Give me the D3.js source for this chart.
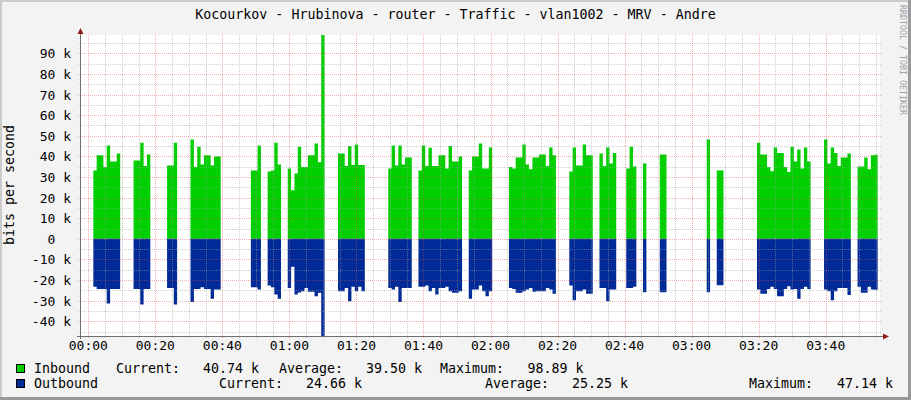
<!DOCTYPE html>
<html>
<head>
<meta charset="utf-8">
<script src="https://cdn.jsdelivr.net/npm/d3@7"></script>
<style>
body { margin: 0; background: #f3f3f3; }
text { font-family: "DejaVu Sans Mono", monospace; white-space: pre; }
</style>
</head>
<body>
<svg id="chart" width="911" height="400"></svg>
<script>
// minute (after 00:00) of the first sample of every run of data
var blockStart = [2, 14, 24, 31, 49, 54, 60, 75, 90, 99, 114, 126, 144, 153, 161, 166, 171, 185, 188, 200, 220, 230]
// one value per minute, kbit/s
var inbound = [
	[33.2, 40.5, 40.5, 34.8, 45.3, 37.5, 37.5, 41.4],
	[38.0, 38.0, 46.6, 35.3, 40.9],
	[35.6, 35.6, 46.6],
	[48.2, 34.8, 44.7, 36.1, 40.5, 40.5, 35.6, 40.0, 40.0],
	[33.2, 33.2, 45.3],
	[32.7, 33.2, 46.6, 36.1],
	[34.1, 23.6, 31.7, 44.7, 34.8, 34.8, 40.5, 40.5, 46.3, 37.2, 98.89],
	[41.4, 41.4, 35.3, 45.0, 35.8, 45.8, 35.8, 35.8],
	[34.1, 45.3, 35.6, 45.3, 36.1, 39.5, 39.5],
	[33.2, 45.3, 35.3, 44.2, 35.3, 35.3, 40.5, 40.5, 34.1, 45.0, 37.5, 37.5, 40.0],
	[33.2, 40.0, 40.0, 46.3, 34.1, 34.1, 44.3],
	[34.8, 34.1, 39.5, 39.5, 45.8, 36.1, 33.7, 39.5, 39.5, 40.9, 40.9, 35.3, 44.3, 40.5],
	[32.7, 44.3, 35.6, 35.6, 45.8, 40.5, 40.5],
	[41.4, 35.3, 44.3, 36.6, 41.7],
	[34.1, 44.7, 35.1],
	[36.6],
	[40.9, 40.9],
	[48.2],
	[33.2, 33.2],
	[46.6, 40.9, 40.9, 34.8, 32.8, 44.3, 41.7, 41.7, 34.8, 32.4, 44.7, 37.5, 43.4, 34.1, 44.3, 37.5],
	[48.2, 36.6, 44.3, 41.7, 35.3, 39.5, 39.5, 41.4],
	[35.1, 35.1, 39.5, 33.7, 40.5, 40.74]
]
var outbound = [
	[23.3, 24.3, 24.3, 24.3, 31.4, 24.3, 24.3, 24.3],
	[24.3, 24.3, 31.9, 24.3, 24.3],
	[23.8, 23.8, 31.9],
	[30.7, 24.3, 24.3, 23.5, 24.3, 24.3, 29.1, 24.6, 24.6],
	[23.5, 23.5, 24.6],
	[22.7, 23.5, 27.0, 29.1],
	[23.8, 13.6, 27.0, 26.0, 25.4, 23.8, 25.7, 25.7, 27.8, 26.2, 47.14],
	[25.4, 25.4, 23.8, 30.3, 23.3, 25.4, 23.3, 25.4],
	[23.8, 24.6, 23.3, 30.7, 23.8, 23.8, 23.8],
	[23.3, 23.3, 22.7, 25.4, 23.8, 27.0, 23.8, 23.8, 23.3, 25.4, 26.2, 26.2, 25.4],
	[29.1, 24.6, 24.6, 22.7, 25.4, 27.8, 25.4],
	[23.8, 24.3, 26.2, 26.2, 25.4, 24.6, 23.8, 25.7, 25.4, 25.4, 25.4, 23.8, 24.6, 26.7],
	[22.7, 29.8, 25.4, 25.4, 24.6, 26.7, 26.7],
	[23.8, 23.8, 30.3, 24.6, 24.6],
	[23.8, 23.8, 23.3],
	[25.9],
	[25.9, 25.9],
	[25.9],
	[22.5, 22.5],
	[24.6, 26.7, 26.7, 24.3, 23.3, 24.3, 27.8, 27.8, 24.3, 23.0, 24.6, 24.3, 29.1, 24.3, 23.3, 24.3],
	[24.6, 25.4, 29.8, 25.4, 23.8, 23.8, 23.8, 27.3],
	[23.3, 26.2, 26.2, 23.3, 24.6, 24.66]
]
var yTicks = [-40, -30, -20, -10, 0, 10, 20, 30, 40, 50, 60, 70, 80, 90]
var xTickMinutes = [0, 20, 40, 60, 80, 100, 120, 140, 160, 180, 200, 220]
var xTickLabels = ['00:00', '00:20', '00:40', '01:00', '01:20', '01:40', '02:00', '02:20', '02:40', '03:00', '03:20', '03:40']
var inboundStats = ['40.74 k', '39.50 k', '98.89 k']
var outboundStats = ['24.66 k', '25.25 k', '47.14 k']

var W = 911, H = 400
var X0 = 80, X1 = 880, Y0 = 336, Y1 = 35
var svg = d3.select('#chart')

var x = d3.scaleLinear().domain([-2.48, 236.2]).range([X0, X1])
var y = d3.scaleLinear().domain([-47.14, 98.89]).range([Y0, Y1])

//background and 3d frame
svg.append('rect').attr('width', W).attr('height', H).attr('fill', '#f3f3f3')
svg.append('path').attr('d', 'M0,0H' + W + 'V2H2V' + H + 'H0Z').attr('fill', '#cbcbcb')
svg.append('path').attr('d', 'M' + W + ',0V' + H + 'H0V' + (H - 3) + 'H' + (W - 3) + 'V0Z').attr('fill', '#999999')
svg.append('rect').attr('x', X0).attr('y', Y1).attr('width', X1 - X0).attr('height', Y0 - Y1).attr('fill', '#ffffff')

//step areas, one per run of samples
function steps(start, vals, sign)
{
	var pts = vals.map(function(v, i) { return {t: start + i - 0.5, v: v * sign} })
	pts.push({t: start + vals.length - 0.5, v: vals[vals.length - 1] * sign})
	return pts
}
var area = d3.area()
	.x(function(d) { return x(d.t) })
	.y0(y(0))
	.y1(function(d) { return y(d.v) })
	.curve(d3.curveStepAfter)

var gIn = svg.append('g')
var gOut = svg.append('g')
blockStart.forEach(function(s, b)
{
	gIn.append('path').attr('d', area(steps(s, inbound[b], 1))).attr('fill', '#00cf00')
	gOut.append('path').attr('d', area(steps(s, outbound[b], -1))).attr('fill', '#002a97')
})

//grid on top of the data, as rrdtool does
var grid = svg.append('g').attr('stroke-width', 1).attr('stroke-dasharray', '1,1').attr('fill', 'none')
function px(v) { return Math.round(v) + 0.5 }
d3.range(-45, 100, 5).forEach(function(v)
{
	if (y(v) < Y1) return
	var major = v % 10 === 0
	grid.append('line').attr('x1', X0 - 2).attr('x2', X1 + 2).attr('y1', px(y(v))).attr('y2', px(y(v)))
		.attr('stroke', major ? 'rgba(222,80,80,0.45)' : 'rgba(160,160,160,0.5)')
})
d3.range(0, 237, 5).forEach(function(m)
{
	var major = m % 20 === 0
	grid.append('line').attr('y1', Y1).attr('y2', Y0 + 2).attr('x1', px(x(m))).attr('x2', px(x(m)))
		.attr('stroke', major ? 'rgba(222,80,80,0.45)' : 'rgba(160,160,160,0.5)')
})

//axes and arrows
svg.append('line').attr('x1', X0 - 3).attr('x2', X1 + 4).attr('y1', Y0 + 0.5).attr('y2', Y0 + 0.5).attr('stroke', '#707070')
svg.append('line').attr('x1', X0 + 0.5).attr('x2', X0 + 0.5).attr('y1', Y0 + 3).attr('y2', Y1 - 4).attr('stroke', '#707070')
svg.append('path').attr('d', 'M' + (X1 + 3) + ',' + (Y0 - 2.5) + 'L' + (X1 + 9) + ',' + (Y0 + 0.5) + 'L' + (X1 + 3) + ',' + (Y0 + 3.5) + 'Z').attr('fill', '#8f1d1d')
svg.append('path').attr('d', 'M' + (X0 - 2.5) + ',' + (Y1 - 1) + 'L' + (X0 + 0.5) + ',' + (Y1 - 7) + 'L' + (X0 + 3.5) + ',' + (Y1 - 1) + 'Z').attr('fill', '#8f1d1d')

//tick labels
svg.append('g').selectAll('text').data(yTicks).enter().append('text')
	.attr('x', 71).attr('y', function(d) { return y(d) + 5 })
	.attr('text-anchor', 'end').attr('font-size', 13).attr('fill', '#000')
	.text(function(d) { return d === 0 ? '0  ' : d + ' k' })
svg.append('g').selectAll('text').data(xTickMinutes).enter().append('text')
	.attr('x', function(d) { return x(d) }).attr('y', 350)
	.attr('text-anchor', 'middle').attr('font-size', 13).attr('fill', '#000')
	.text(function(d, i) { return xTickLabels[i] })

//titles
svg.append('text').attr('x', 455.5).attr('y', 19).attr('text-anchor', 'middle').attr('font-size', 13.3)
	.text('Kocourkov - Hrubinova - router - Traffic - vlan1002 - MRV - Andre')
svg.append('text').attr('transform', 'translate(13.5,185) rotate(-90)').attr('text-anchor', 'middle').attr('font-size', 13.3)
	.text('bits per second')
svg.append('text').attr('transform', 'translate(899.5,5) rotate(90)').attr('font-size', 8.3).attr('fill', '#a0a0a0')
	.text('RRDTOOL / TOBI OETIKER')

//legend
function legendRow(yb, colour, name, stats, xs)
{
	svg.append('rect').attr('x', 16.5).attr('y', yb - 8.5).attr('width', 8).attr('height', 8)
		.attr('fill', colour).attr('stroke', '#000').attr('stroke-width', 1)
	var parts = [name, 'Current:', stats[0], 'Average:', stats[1], 'Maximum:', stats[2]]
	parts.forEach(function(p, i)
	{
		svg.append('text').attr('x', xs[i]).attr('y', yb).attr('font-size', 13.3).text(p)
	})
}
legendRow(373, '#00cf00', 'Inbound', inboundStats, [34, 116, 203, 279, 366, 440, 527.5])
legendRow(388, '#002a97', 'Outbound', outboundStats, [34, 219, 306, 485, 572, 749, 837])
</script>
</body>
</html>
